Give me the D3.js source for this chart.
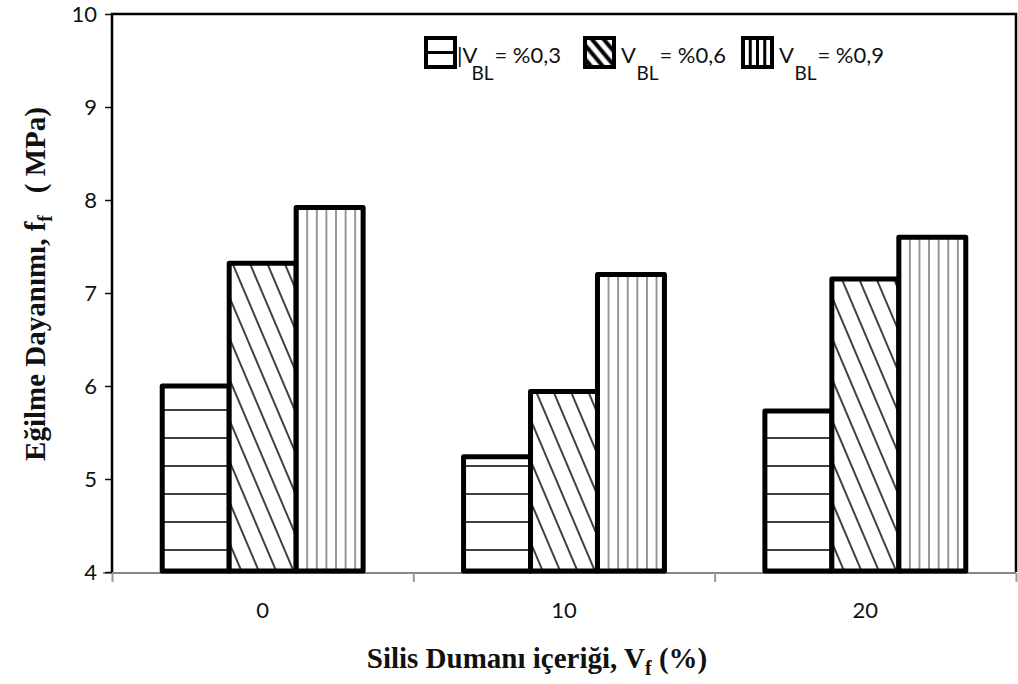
<!DOCTYPE html>
<html>
<head>
<meta charset="utf-8">
<script src="https://cdn.jsdelivr.net/npm/d3@7"></script>
<style>
  body { margin: 0; background: #fff; }
  svg { display: block; }
</style>
</head>
<body>
<svg id="chart" width="1018" height="684"></svg>
<script>
// Silica fume content (x categories)
const categories = ["0", "10", "20"];
// Flexural strength (MPa) for each basalt fibre volume ratio
const seriesKeys = ["v03", "v06", "v09"];
const v03 = [6.00, 5.24, 5.73];
const v06 = [7.32, 5.94, 7.15];
const v09 = [7.92, 7.20, 7.60];
// Legend texts: main part, subscript, trailing part
const legendMain = ["|V", "V", "V"];
const legendSub = ["BL", "BL", "BL"];
const legendTail = ["= %0,3", "= %0,6", "= %0,9"];
// Axis ticks
const yTicks = [4, 5, 6, 7, 8, 9, 10];
const yDomain = [4, 10];

const seriesValues = { v03, v06, v09 };
const rows = categories.map((c, i) => ({ cat: c, values: seriesKeys.map(k => ({ key: k, value: seriesValues[k][i] })) }));

const svg = d3.select("#chart");
const plot = { left: 112, right: 1016, top: 14, bottom: 572 };
const sans = "Lato, 'Open Sans', sans-serif";

const x0 = d3.scaleBand().domain(categories).range([plot.left, plot.right]).paddingInner(0).paddingOuter(0);
const x1 = d3.scaleBand().domain(seriesKeys).range([0, x0.bandwidth()]).paddingInner(0).paddingOuter(0.75);
const y = d3.scaleLinear().domain(yDomain).range([plot.bottom, plot.top]);

// Hatch patterns
const defs = svg.append("defs");
const pH = defs.append("pattern").attr("id", "hatch-v03").attr("patternUnits", "userSpaceOnUse")
  .attr("width", 10).attr("height", 28).attr("y", 4);
pH.append("rect").attr("width", 10).attr("height", 28).attr("fill", "#fff");
pH.append("line").attr("x1", 0).attr("x2", 10).attr("y1", 14).attr("y2", 14).attr("stroke", "#111").attr("stroke-width", 1.6);

const pD = defs.append("pattern").attr("id", "hatch-v06").attr("patternUnits", "userSpaceOnUse")
  .attr("width", 16).attr("height", 16).attr("patternTransform", "rotate(-23)");
pD.append("rect").attr("width", 16).attr("height", 16).attr("fill", "#fff");
pD.append("line").attr("x1", 8).attr("x2", 8).attr("y1", 0).attr("y2", 16).attr("stroke", "#111").attr("stroke-width", 1.6);

const pV = defs.append("pattern").attr("id", "hatch-v09").attr("patternUnits", "userSpaceOnUse")
  .attr("width", 9.6).attr("height", 10).attr("x", 296);
pV.append("rect").attr("width", 9.6).attr("height", 10).attr("fill", "#fff");
pV.append("line").attr("x1", 4.8).attr("x2", 4.8).attr("y1", 0).attr("y2", 10).attr("stroke", "#444").attr("stroke-width", 1.1);

// Legend swatch pattern for the diagonal series (bolder, smaller scale)
const lD = defs.append("pattern").attr("id", "leg-v06").attr("patternUnits", "userSpaceOnUse")
  .attr("width", 9).attr("height", 9).attr("patternTransform", "rotate(-40)");
lD.append("rect").attr("width", 9).attr("height", 9).attr("fill", "#fff");
lD.append("line").attr("x1", 4.5).attr("x2", 4.5).attr("y1", 0).attr("y2", 9).attr("stroke", "#000").attr("stroke-width", 4);

// Bottom axis (gray) with boundary ticks
const xEdges = d3.scaleLinear().domain([0, categories.length]).range([plot.left, plot.right]);
const gx = svg.append("g").attr("transform", `translate(0,${plot.bottom + 1})`)
  .call(d3.axisBottom(xEdges).tickValues(d3.range(categories.length + 1)).tickFormat("").tickSize(9).tickSizeOuter(0));
gx.select(".domain").attr("stroke", "#888").attr("stroke-width", 2).attr("d", `M${plot.left - 9},0H${plot.right}`);
gx.selectAll(".tick line").attr("stroke", "#999").attr("stroke-width", 2);

const gxl = svg.append("g").attr("transform", `translate(0,${plot.bottom + 1})`)
  .call(d3.axisBottom(x0).tickSize(0).tickPadding(29));
gxl.select(".domain").remove();
gxl.selectAll("text").attr("font-family", sans).attr("font-size", 22).attr("fill", "#111");

// Left axis
const gy = svg.append("g").attr("transform", `translate(${plot.left},0)`)
  .call(d3.axisLeft(y).tickValues(yTicks).tickFormat(d3.format("d")).tickSize(7).tickPadding(8));
gy.select(".domain").remove();
gy.selectAll(".tick line").attr("stroke", "#111").attr("stroke-width", 1.5);
gy.selectAll("text").attr("font-family", sans).attr("font-size", 22).attr("fill", "#111");

// Bars
const groups = svg.append("g").selectAll("g").data(rows).join("g")
  .attr("transform", d => `translate(${x0(d.cat)},0)`);
groups.selectAll("rect").data(d => d.values).join("rect")
  .attr("x", d => x1(d.key))
  .attr("y", d => y(d.value))
  .attr("width", x1.bandwidth())
  .attr("height", d => y(yDomain[0]) - y(d.value) - 1)
  .attr("fill", d => `url(#hatch-${d.key})`)
  .attr("stroke", "#000").attr("stroke-width", 5).attr("stroke-linejoin", "round");

// Plot frame (left, top, right)
svg.append("path")
  .attr("d", `M${plot.left},${plot.bottom}V${plot.top}H${plot.right}V${plot.bottom}`)
  .attr("fill", "none").attr("stroke", "#000").attr("stroke-width", 2.5);

// Legend
const legendX = [426, 585, 743];
const leg = svg.append("g").selectAll("g").data(seriesKeys).join("g")
  .attr("transform", (d, i) => `translate(${legendX[i]},38)`);
leg.append("rect").attr("width", 29).attr("height", 29)
  .attr("fill", d => d === "v06" ? "url(#leg-v06)" : "#fff")
  .attr("stroke", "#000").attr("stroke-width", 4);
leg.filter(d => d === "v03").append("line")
  .attr("x1", 0).attr("x2", 29).attr("y1", 14.5).attr("y2", 14.5).attr("stroke", "#000").attr("stroke-width", 3);
leg.filter(d => d === "v09").selectAll("line").data([7.25, 14.5, 21.75]).join("line")
  .attr("x1", d => d).attr("x2", d => d).attr("y1", 0).attr("y2", 29).attr("stroke", "#000").attr("stroke-width", 3);

leg.each(function (d, i) {
  const g = d3.select(this);
  const x = i === 0 ? 31 : 36;
  const main = g.append("text").attr("x", x).attr("y", 25)
    .attr("font-family", sans).attr("font-size", 22).attr("fill", "#111").text(legendMain[i]);
  const mainEnd = x + main.node().getComputedTextLength();
  // subscript sits just right of the main letter, below the baseline
  const subX = i === 0 ? mainEnd - 6 : mainEnd + 0.5;
  const sub = g.append("text").attr("x", subX).attr("y", 42)
    .attr("font-family", sans).attr("font-size", 19).attr("fill", "#111").text(legendSub[i]);
  const subEnd = subX + sub.node().getComputedTextLength();
  g.append("text").attr("x", Math.max(mainEnd + 6, subEnd + 1)).attr("y", 25)
    .attr("font-family", sans).attr("font-size", 22).attr("fill", "#111").text(legendTail[i]);
});

// Axis titles
const title = { family: "'Liberation Serif', 'Times New Roman', serif", size: 29 };
const xt = svg.append("text").attr("x", 537).attr("y", 668).attr("text-anchor", "middle")
  .attr("font-family", title.family).attr("font-weight", "bold").attr("font-size", title.size).attr("fill", "#111");
xt.append("tspan").text("Silis Dumanı içeriği, V");
xt.append("tspan").attr("dy", 7).attr("font-size", 20).text("f");
xt.append("tspan").attr("dy", -7).text(" (%)");

const yt = svg.append("text").attr("transform", "translate(45,284) rotate(-90)").attr("text-anchor", "middle")
  .attr("font-family", title.family).attr("font-weight", "bold").attr("font-size", title.size).attr("fill", "#111");
yt.append("tspan").text("Eğilme Dayanımı, f");
yt.append("tspan").attr("dy", 7).attr("font-size", 20).text("f");
yt.append("tspan").attr("dy", -7).attr("xml:space", "preserve").text("   ( MPa)");
</script>
</body>
</html>
